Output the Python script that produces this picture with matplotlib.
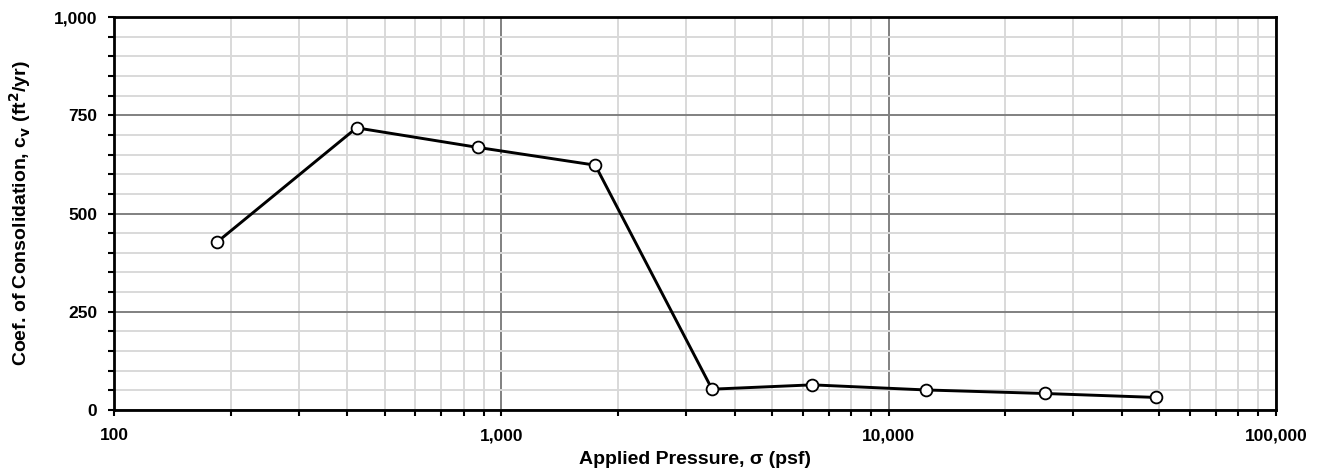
import numpy as np
import matplotlib
matplotlib.use("Agg")
import matplotlib.pyplot as plt
from matplotlib.ticker import FixedLocator, FuncFormatter, NullFormatter

# applied pressure (psf) and coefficient of consolidation (ft2/yr)
pressure = [185, 423, 872, 1748, 3500, 6350, 12500, 25300, 49000]
cv = [428, 718, 668, 623, 53, 64, 51, 42, 32]

x_major = [100, 1000, 10000, 100000]
y_major = [0, 250, 500, 750, 1000]

plt.rcParams['font.family'] = ['Liberation Sans', 'DejaVu Sans']
plt.rcParams['font.weight'] = 'bold'

fig = plt.figure(figsize=(13.22, 4.71), dpi=100)
ax = fig.add_axes([0.0862, 0.1295, 0.879, 0.8344])

ax.set_xscale('log')
ax.set_xlim(100, 100000)
ax.set_ylim(0, 1000)

x_minor = [m * d for d in (100, 1000, 10000) for m in range(2, 10)]
ax.xaxis.set_major_locator(FixedLocator(x_major))
ax.xaxis.set_minor_locator(FixedLocator(x_minor))
ax.xaxis.set_major_formatter(FuncFormatter(lambda v, p: f'{v:,.0f}'))
ax.xaxis.set_minor_formatter(NullFormatter())
ax.yaxis.set_major_locator(FixedLocator(y_major))
ax.yaxis.set_minor_locator(FixedLocator(np.arange(0, 1001, 50)))
ax.yaxis.set_major_formatter(FuncFormatter(lambda v, p: f'{v:,.0f}'))

ax.grid(which='minor', color='#d9d9d9', lw=1.4, zorder=0)
ax.grid(which='major', color='#808080', lw=1.4, zorder=1)
ax.set_axisbelow(True)

for s in ax.spines.values():
    s.set_linewidth(2)
    s.set_color('black')

ax.tick_params(which='both', direction='out', length=4, width=1.5, colors='black',
               labelsize=12.5)
ax.tick_params(axis='y', which='major', pad=8)
ax.tick_params(axis='x', which='major', pad=9)

ax.plot(pressure, cv, color='black', lw=2.1, marker='o', ms=8.5,
        mfc='white', mec='black', mew=1.3, zorder=5, clip_on=False)

ax.set_xlabel('Applied Pressure, σ (psf)', fontsize=14, fontweight='bold', labelpad=6)
ax.set_ylabel('Coef. of Consolidation, c$_\\mathbf{v}$ (ft$^\\mathbf{2}$/yr)', fontsize=14,
              fontweight='bold', labelpad=15)

fig.savefig('out.png', dpi=100)
